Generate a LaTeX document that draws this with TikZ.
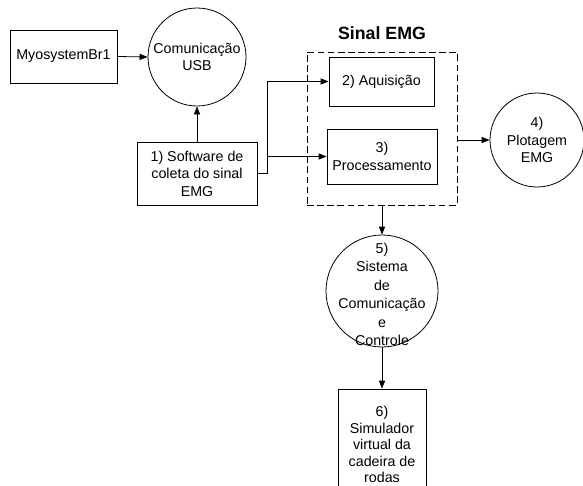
\documentclass[tikz,border=0pt]{standalone}
\usepackage{fontspec}
\setmainfont{Liberation Sans}
\usetikzlibrary{arrows.meta}
\tikzset{
  every node/.style={font=\fontsize{10.7}{13.2}\selectfont, align=center, inner sep=0pt},
  boxnode/.style={draw, rectangle, line width=0.6pt},
  roundnode/.style={draw, circle, line width=0.6pt},
  groupbox/.style={draw, rectangle, line width=0.7pt, dash pattern=on 5pt off 2.6pt},
  arr/.style={line width=0.6pt, -{Triangle[length=6pt, width=4.6pt]}},
  link/.style={line width=0.6pt}
}
\begin{document}
\begin{tikzpicture}[x=0.75pt, y=-0.75pt]
  \path[use as bounding box, clip] (0,0) rectangle (583,486);

  % acquisition side
  \node[boxnode, minimum width=80.25pt, minimum height=39.75pt] (myo) at (63.5,56.5) {MyosystemBr1};
  \node[roundnode, minimum size=73.5pt] (usb) at (197,57) {Comunicação\\USB};
  \node[boxnode, minimum width=90pt, minimum height=47.25pt] (soft) at (197,173.5) {1) Software de\\coleta do sinal\\EMG};

  % EMG signal group
  \node[groupbox, minimum width=112.5pt, minimum height=114.75pt] (grp) at (382,128.5) {};
  \node[font=\fontsize{13.3}{16}\selectfont\bfseries] (title) at (382,33) {Sinal EMG};
  \node[boxnode, minimum width=78.75pt, minimum height=36.75pt] (acq) at (381.5,81.5) {2) Aquisição};
  \node[boxnode, minimum width=82.5pt, minimum height=41.25pt] (proc) at (382,156.5) {3)\\Processamento};

  % outputs
  \node[roundnode, minimum size=70.5pt] (plot) at (537,140) {4)\\Plotagem\\EMG};
  % the circle is drawn on its own so the tall label does not enlarge it
  \node[roundnode, minimum size=84pt] (sys) at (382,291) {};
  \node[font=\fontsize{10.7}{13.8}\selectfont] (systext) at ([yshift=-2.5pt]sys.center) {5)\\Sistema\\de\\Comunicação\\e\\Controle};
  \node[boxnode, minimum width=66pt, minimum height=83.25pt, font=\fontsize{10.7}{12.4}\selectfont] (sim) at (382,444.5) {6)\\Simulador\\virtual da\\cadeira de\\rodas};

  % connectors
  \draw[arr] (myo.east) -- (usb.west);
  \draw[arr] (soft.north) -- (usb.south);
  \coordinate (split) at (267,173.5);
  \draw[link] (soft.east) -- (split);
  \draw[arr] (split) |- (acq.west);
  \draw[arr] (split) |- (proc.west);
  \draw[arr] (grp.east |- plot.west) -- (plot.west);
  \draw[arr] (grp.south) -- (sys.north);
  \draw[arr] (sys.south) -- (sim.north);
\end{tikzpicture}
\end{document}
